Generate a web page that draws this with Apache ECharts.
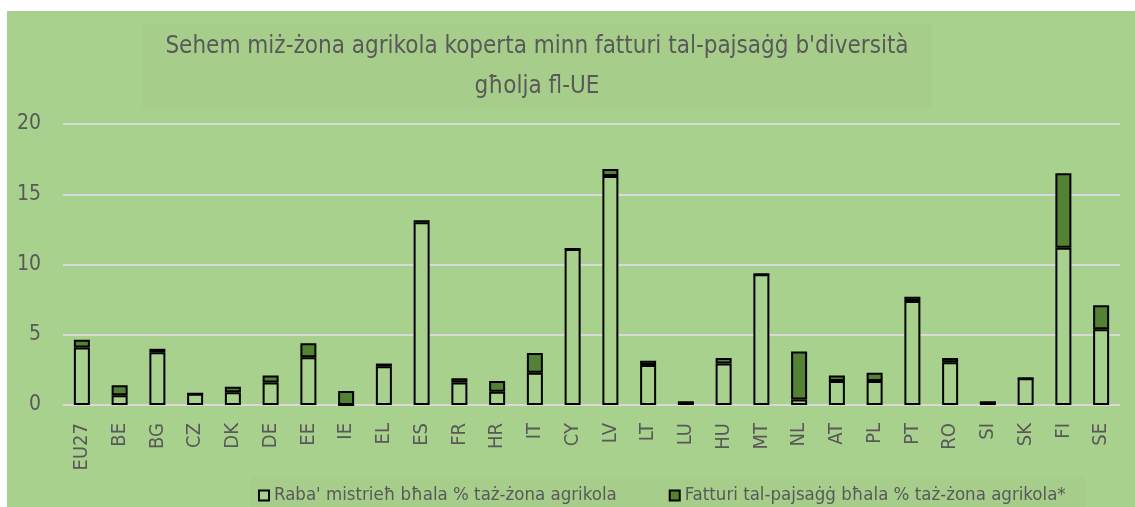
<!DOCTYPE html>
<html>
<head>
<meta charset="utf-8">
<script src="https://cdn.jsdelivr.net/npm/echarts@6/dist/echarts.min.js"></script>
<style>
  html, body { margin: 0; padding: 0; background: #ffffff; }
  #chart { position: absolute; left: 7px; top: 11px; width: 1128px; height: 496px; background: #a9d18e; }
</style>
</head>
<body>
<div id="chart"></div>
<script>
  // landen
  var countries = ['EU27', 'BE', 'BG', 'CZ', 'DK', 'DE', 'EE', 'IE', 'EL', 'ES', 'FR', 'HR', 'IT', 'CY',
    'LV', 'LT', 'LU', 'HU', 'MT', 'NL', 'AT', 'PL', 'PT', 'RO', 'SI', 'SK', 'FI', 'SE'];
  var fallow = [4.1, 0.7, 3.75, 0.8, 0.9, 1.6, 3.4, 0, 2.75, 13.0, 1.6, 0.95, 2.3, 11.1,
    16.3, 2.85, 0.2, 2.95, 9.3, 0.4, 1.7, 1.7, 7.4, 3.05, 0.2, 1.9, 11.2, 5.4];
  var landscape = [0.55, 0.7, 0.25, 0, 0.4, 0.5, 1.0, 1.0, 0.2, 0.15, 0.3, 0.75, 1.4, 0,
    0.5, 0.3, 0, 0.4, 0, 3.4, 0.4, 0.6, 0.3, 0.3, 0, 0, 5.3, 1.7];
  var seriesNames = ["Raba' mistrieħ bħala % taż-żona agrikola", 'Fatturi tal-pajsaġġ bħala % taż-żona agrikola*'];
  var titleText = "Sehem miż-żona agrikola koperta minn fatturi tal-pajsaġġ b'diversità\ngħolja fl-UE";

  var font = '"Liberation Sans Narrow", "DejaVu Sans Condensed", sans-serif';
  var grey = '#595959';

  var chart = echarts.init(document.getElementById('chart'));
  chart.setOption({
    animation: false,
    textStyle: { fontFamily: font },
    graphic: [
      { type: 'rect', left: 135, top: 13, shape: { width: 790, height: 84 }, style: { fill: '#a7cd8b' }, z: -1 },
      { type: 'rect', left: 244, top: 466, shape: { width: 834, height: 30 }, style: { fill: '#a7cd8b' }, z: -1 },
      {
        type: 'text', x: 530, y: 16, z: 10,
        style: {
          text: titleText, textAlign: 'center', fill: grey,
          font: '24px ' + font, lineHeight: 40
        }
      }
    ],
    legend: {
      left: 246,
      top: 470,
      icon: 'rect',
      itemWidth: 10,
      itemHeight: 10,
      itemGap: 52,
      itemStyle: { borderWidth: 2, borderColor: '#000000' },
      textStyle: { fontFamily: font, fontSize: 18.5, color: grey },
      data: seriesNames
    },
    grid: { left: 56, right: 15, top: 113, height: 281, containLabel: false },
    xAxis: {
      type: 'category',
      data: countries,
      axisLine: { show: false },
      axisTick: { show: false },
      axisLabel: { rotate: 90, margin: 18, fontSize: 20, color: grey, fontFamily: font }
    },
    yAxis: {
      type: 'value',
      min: 0,
      max: 20,
      interval: 5,
      axisLabel: { margin: 22, fontSize: 21, color: grey, fontFamily: font },
      splitLine: { lineStyle: { color: '#d9d9d9', width: 2 } }
    },
    series: [
      {
        name: seriesNames[0],
        type: 'bar',
        stack: 'tot',
        barWidth: 16,
        data: fallow,
        itemStyle: { color: '#a9d18e', borderColor: '#000000', borderWidth: 2 }
      },
      {
        name: seriesNames[1],
        type: 'bar',
        stack: 'tot',
        barWidth: 16,
        data: landscape,
        itemStyle: { color: '#548235', borderColor: '#000000', borderWidth: 2 }
      }
    ]
  });
</script>
</body>
</html>
